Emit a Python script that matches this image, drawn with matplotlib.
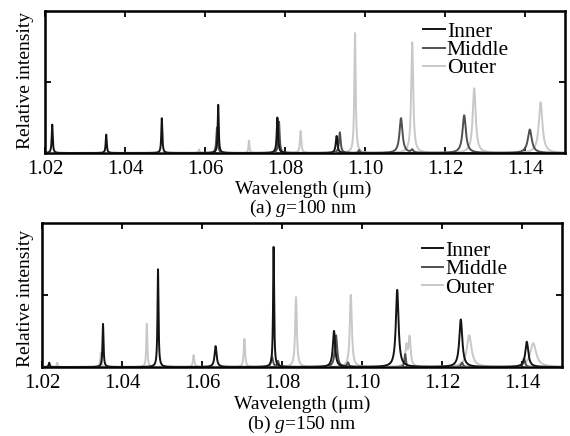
import numpy as np
import matplotlib
matplotlib.use("Agg")
import matplotlib.pyplot as plt

plt.rcParams['font.family'] = ['Liberation Serif', 'DejaVu Serif']
plt.rcParams['mathtext.fontset'] = 'custom'
plt.rcParams['mathtext.rm'] = 'Liberation Serif'
plt.rcParams['mathtext.it'] = 'Liberation Serif:italic'

# ---------------- data (peak centres um, relative heights, FWHM um) ----------------
series_names = ["Inner", "Middle", "Outer"]
x_ticks = [1.02, 1.04, 1.06, 1.08, 1.10, 1.12, 1.14]
x_tick_labels = ["1.02", "1.04", "1.06", "1.08", "1.10", "1.12", "1.14"]

# (a) g = 100 nm
inner_a_c = [1.0218, 1.0353, 1.0492, 1.0633, 1.0781, 1.0929]
inner_a_h = [0.20, 0.13, 0.245, 0.34, 0.25, 0.12]
inner_a_w = [0.0003, 0.0003, 0.0003, 0.0003, 0.0004, 0.0005]
middle_a_c = [1.0630, 1.0785, 1.0937, 1.1090, 1.1248, 1.1412, 1.0985, 1.1118]
middle_a_h = [0.18, 0.22, 0.145, 0.245, 0.265, 0.165, 0.02, 0.02]
middle_a_w = [0.0004, 0.0004, 0.0005, 0.0009, 0.0010, 0.0012, 0.0004, 0.0006]
outer_a_c = [1.0585, 1.0710, 1.0839, 1.0975, 1.1118, 1.1273, 1.1439]
outer_a_h = [0.025, 0.087, 0.155, 0.845, 0.78, 0.455, 0.357]
outer_a_w = [0.0003, 0.0003, 0.0004, 0.0004, 0.0006, 0.0009, 0.0011]

# (b) g = 150 nm
inner_b_c = [1.0218, 1.03525, 1.0490, 1.0634, 1.0779, 1.0930, 1.1088, 1.1247, 1.1412]
inner_b_h = [0.03, 0.30, 0.68, 0.145, 0.835, 0.25, 0.535, 0.33, 0.175]
inner_b_w = [0.0003, 0.0003, 0.0003, 0.0006, 0.0003, 0.0007, 0.0008, 0.0009, 0.0009]
middle_b_c = [1.0775, 1.0790, 1.0935, 1.0965, 1.1108, 1.1405, 1.1250]
middle_b_h = [0.07, 0.04, 0.22, 0.03, 0.09, 0.06, 0.03]
middle_b_w = [0.0006, 0.0004, 0.0007, 0.0005, 0.0004, 0.0006, 0.0006]
outer_b_c = [1.0238, 1.0347, 1.0462, 1.0579, 1.0706, 1.0835, 1.0972, 1.1111, 1.1119, 1.1268, 1.1428]
outer_b_h = [0.03, 0.10, 0.30, 0.083, 0.195, 0.485, 0.50, 0.14, 0.20, 0.22, 0.165]
outer_b_w = [0.0003, 0.0003, 0.0003, 0.0004, 0.0004, 0.0005, 0.0006, 0.0006, 0.0006, 0.0014, 0.0018]

colors = {"Inner": "#141414", "Middle": "#505050", "Outer": "#c8c8c8"}

wl = np.linspace(1.02, 1.15, 8000)


def spectrum(centres, heights, widths):
    y = np.zeros_like(wl)
    for c, h, w in zip(centres, heights, widths):
        y += h / (1.0 + ((wl - c) / (w / 2.0)) ** 2)
    return y


fig = plt.figure(figsize=(5.70, 4.36), dpi=100)
W, H = 570.0, 436.0


def add_axes(l, r, t, b):
    return fig.add_axes([l / W, 1 - b / H, (r - l) / W, (b - t) / H])


ax_a = add_axes(45, 565, 11, 153)
ax_b = add_axes(42, 562, 223, 367)

panels = [
    (ax_a, (0.727, 0.925), [(inner_a_c, inner_a_h, inner_a_w), (middle_a_c, middle_a_h, middle_a_w), (outer_a_c, outer_a_h, outer_a_w)]),
    (ax_b, (0.730, 0.876), [(inner_b_c, inner_b_h, inner_b_w), (middle_b_c, middle_b_h, middle_b_w), (outer_b_c, outer_b_h, outer_b_w)]),
]

for ax, anchor, data in panels:
    handles = {}
    for name, (c, h, w), z in zip(series_names[::-1], data[::-1], [2, 3, 4]):
        ln, = ax.plot(wl, spectrum(c, h, w), color=colors[name], lw=1.4, zorder=z, label=name)
        handles[name] = ln
    ax.set_xlim(1.02, 1.15)
    ax.set_ylim(0, 1)
    ax.set_xticks(x_ticks)
    ax.set_xticklabels(x_tick_labels, fontsize=15)
    ax.set_yticks([0.5])
    ax.set_yticklabels([])
    ax.tick_params(direction='in', top=True, right=True, length=4, width=1.3, pad=5)
    for s in ax.spines.values():
        s.set_linewidth(1.8)
    ax.legend([handles[n] for n in series_names], series_names, loc='upper left',
              bbox_to_anchor=anchor, frameon=False, fontsize=15.5,
              handlelength=1.0, handletextpad=0.1, labelspacing=-0.08,
              borderaxespad=0.0, borderpad=0.0)

# axis labels and captions
fig.text(25 / W, 1 - 80 / H, "Relative intensity", rotation=90, ha='center', va='center', fontsize=14)
fig.text(25 / W, 1 - 298 / H, "Relative intensity", rotation=90, ha='center', va='center', fontsize=14)
fig.text(303 / W, 1 - 189 / H, "Wavelength (μm)", ha='center', va='center', fontsize=14)
fig.text(303 / W, 1 - 208 / H, "(a) $g$=100 nm", ha='center', va='center', fontsize=14)
fig.text(302 / W, 1 - 404 / H, "Wavelength (μm)", ha='center', va='center', fontsize=14)
fig.text(302 / W, 1 - 424 / H, "(b) $g$=150 nm", ha='center', va='center', fontsize=14)

fig.savefig("out.png", dpi=100)
